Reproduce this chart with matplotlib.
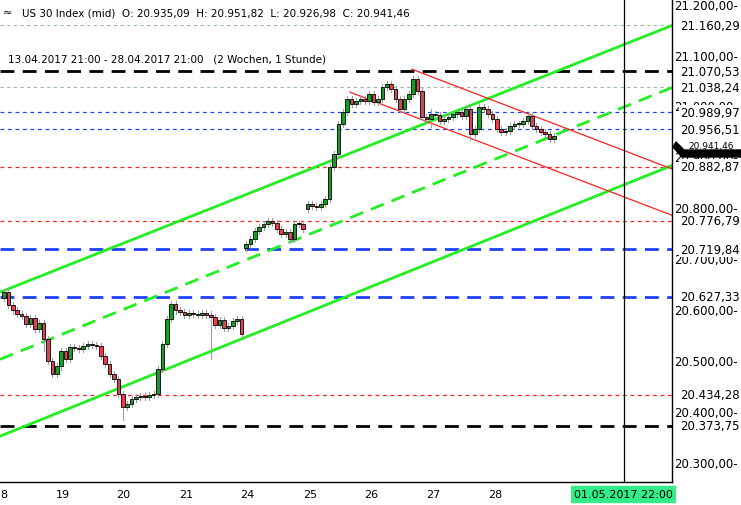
import matplotlib
matplotlib.use("Agg")
import matplotlib.pyplot as plt
from matplotlib.patches import Rectangle, Polygon

# hourly closes, US 30 index, 18.04 - 28.04.2017
closes = [
    20636, 20610, 20600, 20593, 20590, 20573, 20585, 20563, 20575, 20544, 20500, 20475, 20490, 20520,
    20504, 20528, 20526, 20524, 20530, 20534, 20532, 20530, 20510, 20495, 20475, 20465, 20436, 20410,
    20416, 20426, 20430, 20432, 20430, 20434, 20436, 20485, 20535, 20583, 20612, 20600, 20597, 20591,
    20595, 20593, 20591, 20595, 20592, 20587, 20571, 20581, 20565, 20570, 20580, 20583, 20553,
    20730, 20740, 20756, 20764, 20770, 20776, 20772, 20760, 20750, 20754, 20740, 20770, 20770, 20760,
    20809, 20805, 20803, 20809, 20819, 20882, 20907, 20966, 20990, 21015, 21005, 21011, 21015, 21011,
    21025, 21009, 21015, 21039, 21045, 21035, 21015, 20996, 21015, 21025, 21055, 21031, 20980, 20976,
    20986, 20984, 20972, 20976, 20980, 20986, 20990, 20982, 20996, 20947, 20956, 21000, 20996, 20986, 20976,
    20956, 20950, 20952, 20962, 20966, 20966, 20972, 20982, 20962, 20956, 20950, 20947, 20937, 20943,
]
first_open = 20625
gap_opens = {55: 20722, 69: 20800}
long_wicks = {9: (20545, 20520), 47: (20575, 20505), 57: (20760, 20745), 97: (20996, 20960),
              106: (20990, 20935), 27: (20440, 20385)}

day_pos = [0, 13.4, 27, 41.4, 55.2, 69.5, 83.4, 97.5, 111.6]
day_labels = ["8", "19", "20", "21", "24", "25", "26", "27", "28"]

# horizontal levels: (price, colour, width, dash)
levels = [
    (21160.29, "#99bb99", 0.8, (3, 3)),
    (21070.53, "black", 2.0, (5, 3)),
    (21038.24, "#99bb99", 0.8, (3, 3)),
    (20989.97, "#2040ff", 0.9, (3, 3)),
    (20956.51, "#2040ff", 0.9, (3, 3)),
    (20882.87, "#ff2020", 0.9, (3, 3)),
    (20776.79, "#ff2020", 0.9, (3, 3)),
    (20719.84, "#2040ff", 2.0, (5, 3)),
    (20627.33, "#2040ff", 2.0, (5, 3)),
    (20434.28, "#ff2020", 0.9, (3, 3)),
    (20373.75, "black", 2.0, (5, 3)),
]
grid_prices = [21200, 21100, 21000, 20900, 20800, 20700, 20600, 20500, 20400, 20300]

# trend channels (x in bar index, prices)
green_upper = ([-0.9, 151.8], [20636, 21160])
green_mid = ([-0.9, 151.8], [20504, 21038])
green_lower = ([-0.9, 151.8], [20353, 20885])
red_upper = ([92.7, 151.8], [21074, 20878])
red_lower = ([78.6, 151.8], [21029, 20787])

last_close = 20941.46


def fmt(v):
    return f"{v:,.2f}".replace(",", "X").replace(".", ",").replace("X", ".")


fig = plt.figure(figsize=(7.41, 5.06), dpi=100)
ax = fig.add_axes([0, 23 / 506, 672 / 741, 483 / 506])
ymin, ymax = 20263, 21212
xmin, xmax = -0.9, 151.8
ax.set_xlim(xmin, xmax)
ax.set_ylim(ymin, ymax)
ax.set_xticks([])
ax.set_yticks([])
for s in ["top", "left"]:
    ax.spines[s].set_visible(False)
ax.spines["right"].set_linewidth(1.0)
ax.spines["bottom"].set_linewidth(1.0)

for price, col, lw, dash in levels:
    ax.plot([xmin, xmax], [price, price], color=col, lw=lw, dashes=dash, zorder=1)

for xs, ys in (green_upper, green_lower):
    ax.plot(xs, ys, color="#22ee22", lw=2, zorder=2)
ax.plot(*green_mid, color="#22ee22", lw=2, dashes=(5, 3), zorder=2)
for xs, ys in (red_upper, red_lower):
    ax.plot(xs, ys, color="#ff2020", lw=0.9, zorder=2)

prev = first_open
for i, c in enumerate(closes):
    o = gap_opens.get(i, prev)
    hi, lo = max(o, c) + 6, min(o, c) - 6
    if i in long_wicks:
        hi = max(hi, long_wicks[i][0])
        lo = min(lo, long_wicks[i][1])
    ax.plot([i, i], [lo, hi], color="#a0a0a0", lw=0.8, zorder=3)
    col = "#1a9a2a" if c >= o else "#e04050"
    h = max(abs(c - o), 1.5)
    ax.add_patch(Rectangle((i - 0.4, min(o, c)), 0.8, h, facecolor=col,
                           edgecolor="black", lw=0.6, zorder=4))
    prev = c

ax.axvline(141, color="black", lw=0.9, zorder=5)

# right price axis
for p in grid_prices:
    ax.text(1.003, p, fmt(p) + "-", transform=ax.get_yaxis_transform(), fontsize=8.5,
            va="center", ha="left", clip_on=False)
for price, col, lw, dash in levels:
    ax.text(1.012, price, fmt(price), transform=ax.get_yaxis_transform(), fontsize=8.5,
            va="center", ha="left", clip_on=False,
            bbox=dict(facecolor="white", edgecolor="none", pad=0.5))

# last price marker (black arrow tag, mostly covering its label)
yl = 1 - 148 / 506
fig.patches.append(Polygon([(676 / 741, yl + 5 / 506), (684 / 741, yl - 3 / 506),
                            (741 / 741, yl - 3 / 506), (741 / 741, yl - 10 / 506),
                            (682 / 741, yl - 10 / 506), (673 / 741, yl)],
                           closed=True, facecolor="black", edgecolor="black",
                           transform=fig.transFigure, figure=fig, zorder=10))
fig.text(688 / 741, yl + 1 / 506, fmt(last_close), fontsize=6.5, color="black",
         va="center", ha="left", zorder=9)

# day labels
for x, lab in zip(day_pos, day_labels):
    ax.text(x, -0.025, lab, transform=ax.get_xaxis_transform(), fontsize=8,
            ha="center", va="center", clip_on=False)
fig.text(623 / 741, 11 / 506, "01.05.2017 22:00", fontsize=8, ha="center", va="center",
         bbox=dict(facecolor="#33ee88", edgecolor="#33ee88", pad=2))

fig.text(22 / 741, 1 - 13 / 506,
         "US 30 Index (mid)  O: 20.935,09  H: 20.951,82  L: 20.926,98  C: 20.941,46",
         fontsize=7.5, va="center")
fig.text(8 / 741, 1 - 59 / 506,
         "13.04.2017 21:00 - 28.04.2017 21:00   (2 Wochen, 1 Stunde)",
         fontsize=7.5, va="center")
fig.text(3 / 741, 1 - 13 / 506, "\u2248", fontsize=8, va="center")

fig.savefig("out.png", dpi=100)
